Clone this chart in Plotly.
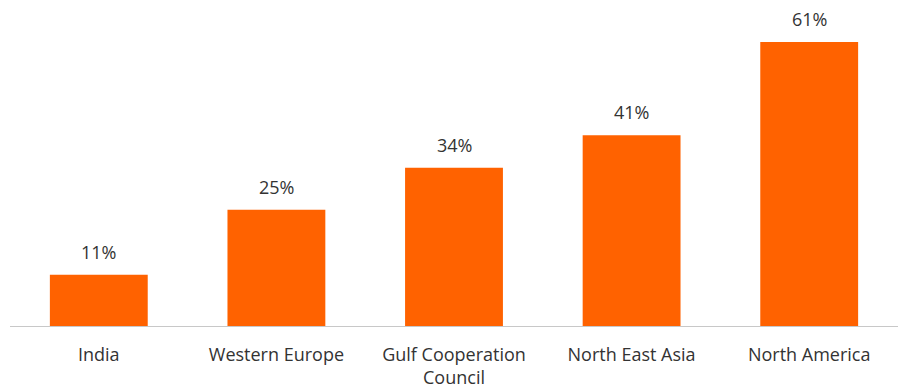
import plotly.graph_objects as go

regions = ["India", "Western Europe", "Gulf Cooperation<br>Council", "North East Asia", "North America"]
shares = [11, 25, 34, 41, 61]
labels = [f"{v}%" for v in shares]

FONT = "Open Sans, Noto Sans, sans-serif"

fig = go.Figure()
fig.add_trace(go.Bar(
    x=regions,
    y=shares,
    marker=dict(color="#FF6200", line=dict(width=0)),
    hoverinfo="skip",
))

for r, v, t in zip(regions, shares, labels):
    fig.add_annotation(
        x=r, y=v, text=t, showarrow=False,
        yanchor="bottom", yshift=9,
        font=dict(family=FONT, size=18, color="#333333"),
    )

fig.update_layout(
    width=898, height=390,
    margin=dict(l=10, r=0, t=23, b=64),
    paper_bgcolor="white", plot_bgcolor="white",
    bargap=0.449,
    showlegend=False,
    font=dict(family=FONT, size=18, color="#333333"),
    xaxis=dict(
        showline=True, linecolor="#C8C8C8", linewidth=1,
        ticks="outside", ticklen=12, tickcolor="rgba(0,0,0,0)",
        showgrid=False, tickfont=dict(family=FONT, size=18, color="#333333"),
    ),
    yaxis=dict(visible=False, range=[0, 65.1], showgrid=False, zeroline=False),
)

fig.write_html("out.html")
